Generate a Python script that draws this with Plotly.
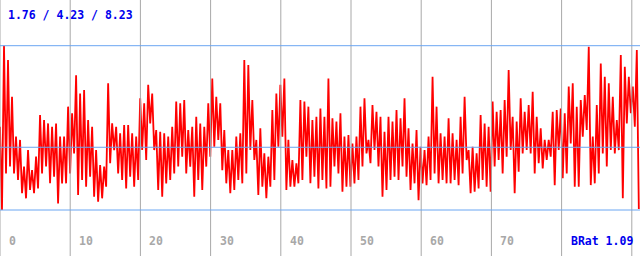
import numpy as np
import plotly.graph_objects as go

# Summary values shown in the header: min / mean / max
stat_min = 1.76
stat_mean = 4.23
stat_max = 8.23
brat = 1.09

tick_values = [0, 10, 20, 30, 40, 50, 60, 70]
tick_labels = ["0", "10", "20", "30", "40", "50", "60", "70"]
grid_values = [0, 10, 20, 30, 40, 50, 60, 70, 80, 90]
label_x_end = 80

# Series (alternating local highs / lows)
series = [
    5.04, 1.76, 8.23, 3.20, 7.67, 3.47, 6.22, 3.20, 4.65, 2.94, 4.52, 2.42, 3.47, 2.22, 4.12, 2.55,
    3.33, 2.42, 3.86, 2.61, 5.50, 3.20, 5.30, 3.47, 5.17, 2.81, 5.04, 3.07, 5.17, 2.02, 4.65, 2.81,
    4.65, 2.81, 5.83, 3.20, 5.57, 3.99, 7.07, 2.35, 6.35, 2.94, 6.48, 2.68, 5.30, 3.07, 5.04, 2.28,
    4.12, 2.09, 3.53, 2.22, 3.47, 2.68, 6.75, 3.60, 5.17, 4.12, 5.04, 3.20, 4.78, 2.94, 5.11, 2.61,
    5.11, 3.07, 4.78, 2.68, 4.65, 2.94, 6.16, 4.12, 5.96, 3.73, 6.69, 5.17, 6.35, 4.12, 4.91, 2.55,
    4.84, 2.28, 4.78, 2.81, 4.65, 2.94, 5.04, 3.20, 6.03, 3.47, 5.96, 3.86, 6.09, 3.20, 4.91, 3.47,
    5.04, 2.28, 5.43, 2.94, 5.17, 2.55, 5.04, 3.47, 5.96, 3.86, 6.94, 4.25, 6.22, 4.52, 5.96, 3.33,
    4.91, 2.81, 4.12, 2.42, 4.12, 2.55, 4.65, 2.94, 4.78, 2.81, 7.67, 3.20, 7.47, 4.12, 6.09, 3.73,
    4.52, 2.35, 4.98, 2.68, 3.99, 2.22, 3.86, 2.68, 5.70, 2.94, 6.35, 4.25, 6.69, 4.65, 6.94, 2.55,
    4.52, 2.68, 3.73, 2.68, 3.60, 2.81, 6.09, 2.94, 6.03, 3.86, 5.83, 2.81, 5.30, 3.07, 5.43, 2.61,
    5.76, 2.94, 5.43, 2.61, 6.94, 2.68, 5.37, 3.47, 5.24, 3.20, 5.57, 2.48, 4.65, 2.68, 4.71, 2.68,
    4.38, 2.81, 4.65, 2.94, 5.83, 3.47, 6.16, 3.99, 4.52, 3.60, 5.89, 4.12, 5.63, 3.47, 5.43, 2.28,
    4.84, 2.55, 5.43, 2.94, 5.24, 3.07, 5.70, 2.94, 5.37, 3.47, 6.16, 3.07, 4.98, 2.55, 4.38, 2.81,
    4.91, 2.15, 4.25, 2.81, 4.12, 2.74, 4.65, 2.94, 7.01, 3.20, 5.83, 2.81, 4.78, 2.94, 4.65, 2.81,
    5.37, 2.81, 4.78, 2.94, 4.52, 2.74, 5.43, 3.20, 6.22, 3.73, 4.12, 2.42, 4.25, 2.48, 3.99, 2.61,
    5.50, 2.94, 5.17, 2.68, 5.04, 2.48, 6.03, 3.47, 5.63, 3.73, 5.70, 3.20, 6.09, 3.86, 7.27, 4.12,
    5.43, 2.42, 5.24, 3.27, 6.16, 3.99, 5.63, 4.12, 5.89, 3.99, 6.42, 3.20, 5.43, 3.60, 4.98, 3.40,
    4.52, 3.73, 4.52, 3.86, 5.63, 2.74, 5.70, 4.12, 5.76, 3.01, 5.57, 3.20, 6.62, 4.38, 6.75, 2.68,
    5.83, 2.68, 6.09, 4.65, 6.29, 4.91, 8.19, 2.74, 4.65, 2.81, 5.89, 3.20, 7.53, 3.99, 7.01, 3.47,
    6.75, 4.12, 6.22, 3.99, 5.30, 4.12, 7.86, 2.22, 7.40, 5.17, 7.01, 5.57, 6.62, 5.04, 8.06, 1.80,
]

n = len(series)
x_idx = np.arange(n) * (91.0 / (n - 1))

W, H = 640, 256
px_per_unit = 70.2 / 10
x_max = W / px_per_unit
y_top_px, y_bot_px = 45.7, 210.0
s = (y_bot_px - y_top_px) / (stat_max - stat_min)
y_hi = stat_max + y_top_px / s
y_lo = stat_min - (H - y_bot_px) / s

fig = go.Figure()
fig.add_trace(go.Scatter(x=x_idx, y=series, mode="lines",
                         line=dict(color="#ff0000", width=1.8), hoverinfo="skip"))

shapes = []
for g in grid_values:
    shapes.append(dict(type="line", xref="x", yref="paper", x0=g, x1=g, y0=0, y1=1,
                       line=dict(color="#a8a8a8", width=1), layer="above"))
for yv in [stat_min, stat_mean, stat_max]:
    shapes.append(dict(type="line", xref="paper", yref="y", x0=0, x1=1, y0=yv, y1=yv,
                       line=dict(color="#6aa6f2", width=1), layer="above"))

font_mono = "DejaVu Sans Mono"
annotations = [
    dict(text="<b>%.2f / %.2f / %.2f</b>" % (stat_min, stat_mean, stat_max),
         xref="paper", yref="paper", x=6 / W, y=1 - 15 / H, xanchor="left", yanchor="middle",
         showarrow=False, font=dict(family=font_mono, size=11.5, color="#0000ee")),
]
for tv, tl in zip(tick_values, tick_labels):
    annotations.append(dict(text="<b>%s</b>" % tl, xref="x", yref="paper", x=tv, xshift=7,
                            y=1 - 241 / H, xanchor="left", yanchor="middle", showarrow=False,
                            font=dict(family=font_mono, size=11.5, color="#a8a8a8")))
annotations.append(dict(text="<b>BRat %.2f</b>" % brat, xref="x", yref="paper", x=label_x_end, xshift=7,
                        y=1 - 241 / H, xanchor="left", yanchor="middle", showarrow=False,
                        font=dict(family=font_mono, size=11.5, color="#0000ee")))

fig.update_layout(
    width=W, height=H, margin=dict(l=0, r=0, t=0, b=0),
    paper_bgcolor="white", plot_bgcolor="white", showlegend=False,
    xaxis=dict(range=[0, x_max], visible=False, fixedrange=True),
    yaxis=dict(range=[y_lo, y_hi], visible=False, fixedrange=True),
    shapes=shapes, annotations=annotations,
)
fig.write_html("out.html", config={"displayModeBar": False})
